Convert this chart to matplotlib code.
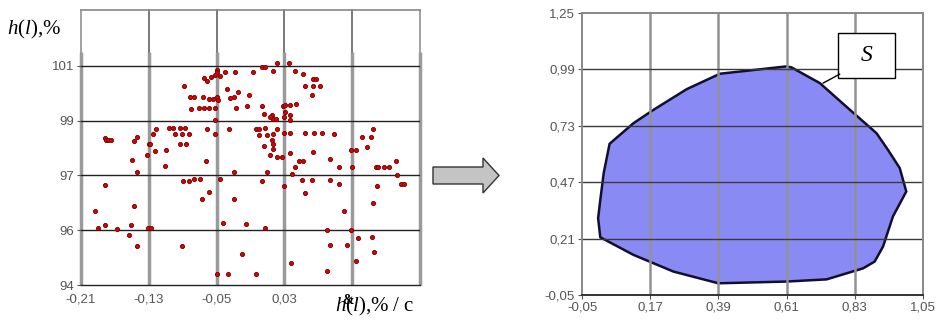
import numpy as np
import matplotlib
matplotlib.use("Agg")
import matplotlib.pyplot as plt
from matplotlib.patches import Polygon, Rectangle

plt.rcParams["font.family"] = ["Liberation Sans", "DejaVu Sans"]
plt.rcParams["mathtext.fontset"] = "custom"
plt.rcParams["mathtext.rm"] = "Liberation Serif"
plt.rcParams["mathtext.it"] = "Liberation Serif:italic"

# left panel: scatter of h(l) vs its rate
scatter_x = [
    0.021, 0.036,
    -0.050, -0.049, -0.040, -0.028, -0.007, 0.004, 0.007, 0.017, 0.043, 0.052,
    -0.065, -0.057, -0.052, -0.046, 0.064, 0.067, -0.061,
    -0.088, 0.054, 0.064, 0.072, -0.038, -0.025, 0.063,
    -0.081, -0.077, -0.066, -0.059, -0.054, -0.050, -0.048, -0.034, -0.030, -0.012,
    -0.080, -0.071, -0.065, -0.059, -0.052, -0.027, -0.014, 0.004, 0.028, 0.031, 0.037, 0.044,
    0.006, 0.015, 0.031, 0.037, 0.017, 0.020, 0.029, -0.052, 0.037, 0.013,
    -0.121, -0.106, -0.101, -0.093, -0.087, -0.061, -0.035, -0.004, 0.000, 0.007, 0.021, 0.135,
    -0.125, -0.099, -0.091, -0.082, -0.052, 0.000, 0.009, 0.017, 0.029, 0.037, 0.054, 0.065, 0.074, 0.088,
    -0.182, -0.180, -0.178, -0.175, -0.148, -0.144, 0.015, 0.122, 0.132,
    -0.130, -0.128, -0.093, -0.086, 0.006, 0.017, 0.128,
    -0.123, -0.110, 0.108, 0.114, 0.017, 0.064,
    0.013, 0.021, 0.027, 0.037, 0.084,
    -0.150, -0.132, -0.063, 0.047, 0.052, 0.162,
    -0.111, 0.043, 0.095, 0.110, 0.138, 0.141, 0.147, 0.153,
    -0.144, -0.030, 0.009, 0.039, 0.163,
    -0.046, 0.051, 0.063, 0.084, 0.095, 0.139, 0.167, 0.171,
    -0.090, -0.083, -0.077, -0.070, 0.003,
    -0.182, 0.029, -0.059, 0.054, -0.067, -0.029,
    0.135, -0.148, -0.194, 0.100,
    -0.043, -0.015, -0.182, -0.151, -0.190, -0.168, -0.131, -0.127, 0.007, 0.080, 0.108,
    -0.153, 0.117, 0.133, -0.144, -0.091, 0.084, 0.104,
    0.136, -0.020, 0.038, 0.115, 0.080, -0.049, -0.036, -0.004,
]
scatter_y = [
    101.09, 101.09,
    100.84, 100.78, 100.78, 100.78, 100.78, 100.96, 100.96, 100.80, 100.80, 100.72,
    100.56, 100.60, 100.66, 100.62, 100.51, 100.51, 100.44,
    100.26, 100.26, 100.26, 100.26, 100.17, 100.05, 99.93,
    99.86, 99.86, 99.86, 99.80, 99.80, 99.86, 99.74, 99.84, 99.86, 99.93,
    99.44, 99.47, 99.47, 99.47, 99.47, 99.47, 99.52, 99.52, 99.52, 99.56, 99.56, 99.60,
    99.25, 99.19, 99.32, 99.19, 99.07, 99.07, 99.13, 99.04, 99.01, 99.13,
    98.70, 98.73, 98.73, 98.73, 98.73, 98.70, 98.70, 98.70, 98.70, 98.73, 98.70, 98.70,
    98.52, 98.52, 98.52, 98.52, 98.52, 98.46, 98.46, 98.52, 98.55, 98.55, 98.55, 98.55, 98.55, 98.52,
    98.36, 98.30, 98.28, 98.28, 98.25, 98.42, 98.28, 98.40, 98.40,
    98.13, 98.15, 98.15, 98.15, 98.06, 98.15, 98.03,
    97.91, 97.94, 97.94, 97.94, 97.97, 97.87,
    97.73, 97.67, 97.69, 97.81, 97.61,
    97.57, 97.73, 97.51, 97.51, 97.51, 97.52,
    97.36, 97.32, 97.30, 97.30, 97.30, 97.30, 97.30, 97.30,
    97.12, 97.12, 97.12, 97.06, 97.00,
    96.87, 96.85, 96.85, 96.85, 96.69, 96.63, 96.69, 96.69,
    96.79, 96.81, 96.87, 96.87, 96.79,
    96.65, 96.63, 96.41, 96.35, 96.13, 96.13,
    95.98, 95.88, 95.69, 95.69,
    95.25, 95.22, 95.20, 95.20, 95.07, 95.05, 95.07, 95.07, 95.07, 95.02, 95.02,
    94.82, 94.70, 94.74, 94.44, 94.44, 94.47, 94.47,
    94.22, 94.13, 93.80, 93.86, 93.52, 93.39, 93.39, 93.39,
]
left_xticks = [-0.21, -0.13, -0.05, 0.03, 0.11, 0.19]
left_xlabels = ["-0,21", "-0,13", "-0,05", "0,03", "", ""]
left_yticks = [93, 95, 97, 99, 101]
left_ylabels = ["94", "96", "97", "99", "101"]

# right panel: region S
region_x = [0.039, 0.020, 0.009, 0.002, 0.009, 0.116, 0.245, 0.390, 0.610, 0.739,
            0.857, 0.894, 0.921, 0.953, 0.996, 0.975, 0.937, 0.900, 0.814, 0.717,
            0.626, 0.610, 0.395, 0.288, 0.181, 0.116]
region_y = [0.647, 0.512, 0.388, 0.304, 0.216, 0.135, 0.058, 0.004, 0.012, 0.022,
            0.073, 0.104, 0.173, 0.312, 0.427, 0.535, 0.619, 0.696, 0.804, 0.927,
            0.999, 1.004, 0.970, 0.899, 0.804, 0.742]
right_xticks = [-0.05, 0.17, 0.39, 0.61, 0.83, 1.05]
right_yticks = [-0.05, 0.21, 0.47, 0.73, 0.99, 1.25]


def comma(v):
    return ("%.2f" % v).replace(".", ",")


W, H = 944, 321
fig = plt.figure(figsize=(W / 100, H / 100), dpi=100)

# ---- left scatter ----
ax1 = fig.add_axes([81 / W, 1 - 285 / H, 339 / W, 275 / H])
ax1.scatter(scatter_x, scatter_y, s=9, c="#e00000", edgecolors="#6a0000",
            linewidths=0.6, zorder=3)
ax1.set_xlim(-0.21, 0.19)
ax1.set_ylim(93, 103.04)
ax1.set_xticks(left_xticks)
ax1.set_xticklabels(left_xlabels)
ax1.set_yticks(left_yticks)
ax1.set_yticklabels(left_ylabels)
ax1.tick_params(axis="both", labelsize=9.5, labelcolor="#555555", length=3,
                color="#555555", pad=2)
ax1.tick_params(axis="x", length=0, pad=6)
# vertical grid: thick grey in the data band, thin in the top band
split = 101.5
for xv in left_xticks:
    ax1.plot([xv, xv], [93, split], color="#9a9a9a", lw=2.5, zorder=1.5,
             solid_capstyle="butt", clip_on=False)
    top_col = "#888888" if xv in (-0.21, 0.19) else "#555555"
    ax1.plot([xv, xv], [split, 103.04], color=top_col, lw=1.1, zorder=1.5,
             clip_on=False)
for yv in left_yticks[1:]:
    ax1.axhline(yv, color="#222222", lw=1.0, zorder=1.6)
ax1.spines["top"].set_color("#888888")
ax1.spines["top"].set_linewidth(1.2)
for side in ["left", "right"]:
    ax1.spines[side].set_visible(False)
ax1.spines["bottom"].set_color("#222222")
ax1.spines["bottom"].set_linewidth(1.0)

# ---- right region ----
ax2 = fig.add_axes([582 / W, 1 - 295 / H, 341 / W, 282 / H])
ax2.add_patch(Polygon(np.column_stack([region_x, region_y]), closed=True,
                      facecolor="#8a8af4", edgecolor="#10102e", lw=1.8, zorder=1))
ax2.set_xlim(-0.05, 1.05)
ax2.set_ylim(-0.05, 1.25)
ax2.set_xticks(right_xticks)
ax2.set_xticklabels([comma(v) for v in right_xticks])
ax2.set_yticks(right_yticks)
ax2.set_yticklabels([comma(v) for v in right_yticks])
ax2.tick_params(axis="both", labelsize=9.5, labelcolor="#555555", length=3,
                color="#555555", pad=2)
for xv in right_xticks[1:-1]:
    ax2.axvline(xv, color="#929292", lw=1.8, zorder=1.5)
for yv in right_yticks[1:-1]:
    ax2.axhline(yv, color="#3a3a3a", lw=1.0, zorder=1.6)
for side in ax2.spines:
    ax2.spines[side].set_color("#888888")
    ax2.spines[side].set_linewidth(1.4)
ax2.spines["bottom"].set_color("#333333")

ax2.add_patch(Rectangle((0.776, 0.95), 0.183, 0.208, facecolor="white",
                        edgecolor="black", lw=1.0, zorder=5))
ax2.text(0.8675, 1.054, "S", fontsize=17, family="Liberation Serif",
         style="italic", ha="center", va="center", zorder=6)
ax2.plot([0.781, 0.728], [0.968, 0.927], color="black", lw=1.0, zorder=5)

# ---- overlay for labels and arrow (pixel coords) ----
ov = fig.add_axes([0, 0, 1, 1])
ov.set_xlim(0, W)
ov.set_ylim(H, 0)
ov.axis("off")
ov.patch.set_alpha(0)
arrow = [(433, 167), (483, 167), (483, 158), (499, 175.5), (483, 193),
         (483, 184), (433, 184)]
ov.add_patch(Polygon(arrow, closed=True, facecolor="#c4c4c4",
                     edgecolor="#333333", lw=1.0))
ov.text(7, 29, r"$h(l)$,%", fontsize=15, family="Liberation Serif",
        ha="left", va="center")
ov.text(335, 306, r"$h(l)$,% / c", fontsize=15, family="Liberation Serif",
        ha="left", va="center")
# the mis-rendered dot accent over h, drawn as in the source
ov.text(342, 300, "&", fontsize=10, family="Liberation Serif",
        fontweight="bold", ha="left", va="center")

fig.savefig("out.png", dpi=100)
